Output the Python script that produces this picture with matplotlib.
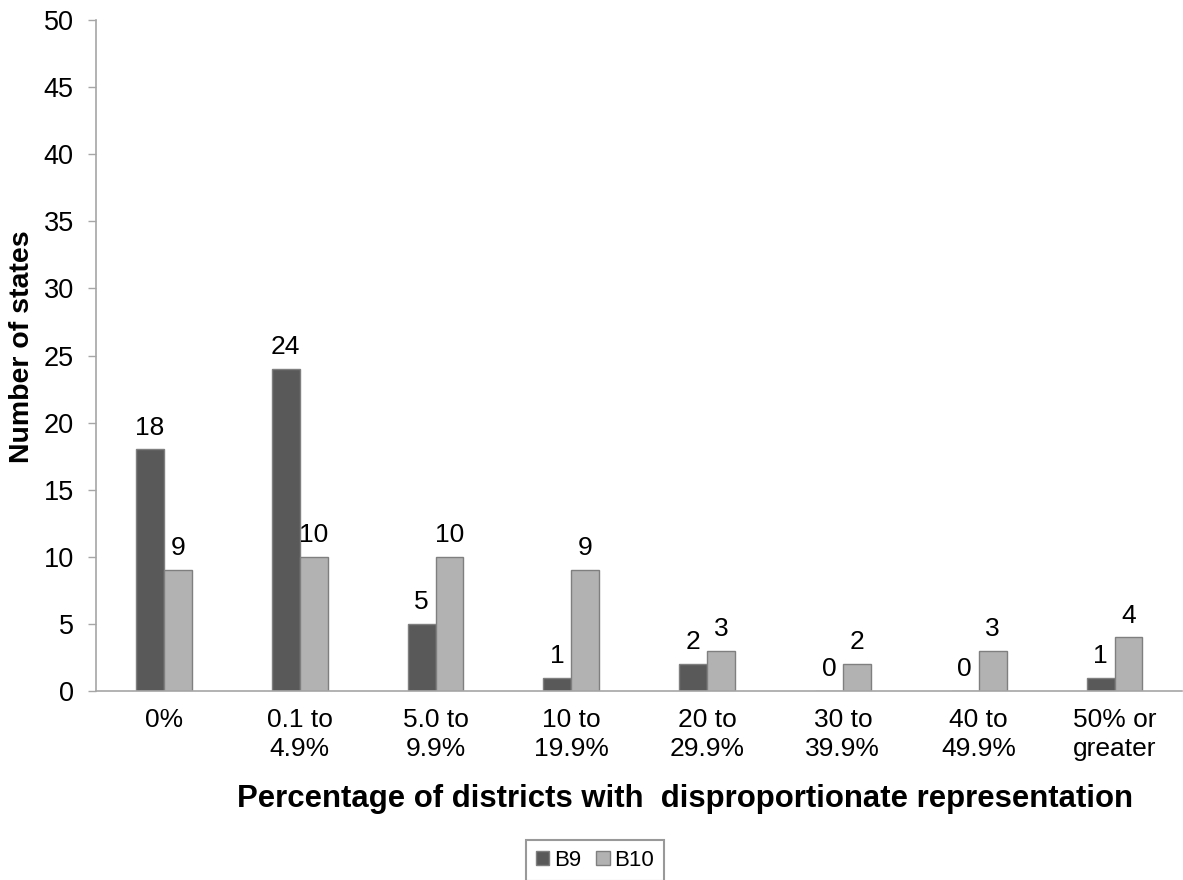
import matplotlib
matplotlib.use("Agg")
import matplotlib.pyplot as plt
import numpy as np

plt.rcParams['font.family'] = ['Liberation Sans', 'DejaVu Sans']

categories = ["0%", "0.1 to\n4.9%", "5.0 to\n9.9%", "10 to\n19.9%",
              "20 to\n29.9%", "30 to\n39.9%", "40 to\n49.9%", "50% or\ngreater"]
b9 = [18, 24, 5, 1, 2, 0, 0, 1]
b10 = [9, 10, 10, 9, 3, 2, 3, 4]
series_names = ["B9", "B10"]
yticks = list(range(0, 51, 5))

fig = plt.figure(figsize=(11.83, 8.8), dpi=100)
ax = fig.add_axes([96 / 1183, 1 - 691 / 880, 1 - 96 / 1183 - 0.0005, (691 - 20) / 880])

x = np.arange(len(categories))
w = 0.206
axis_grey = "#a6a6a6"
edge = "#7f7f7f"
bars9 = ax.bar(x - w / 2, b9, w, color="#595959", edgecolor=edge, linewidth=1.0,
               label=series_names[0])
bars10 = ax.bar(x + w / 2, b10, w, color="#b2b2b2", edgecolor=edge, linewidth=1.0,
                label=series_names[1])

for rects, vals in ((bars9, b9), (bars10, b10)):
    for r, v in zip(rects, vals):
        ax.annotate(str(v), (r.get_x() + r.get_width() / 2, v),
                    xytext=(0, 7), textcoords="offset points",
                    ha="center", va="bottom", fontsize=19, color="black")

ax.set_xlim(-0.5, len(categories) - 0.5)
ax.set_ylim(0, 50)
ax.set_yticks(yticks)
ax.set_xticks(x)
ax.set_xticklabels(categories, fontsize=19, linespacing=1.3)
ax.tick_params(axis="y", labelsize=19.5, length=6, width=1, color=axis_grey, pad=10)
ax.tick_params(axis="x", length=0, pad=12)

for side in ("top", "right"):
    ax.spines[side].set_visible(False)
ax.spines["left"].set_color(axis_grey)
ax.spines["bottom"].set_color(axis_grey)
ax.spines["left"].set_linewidth(1.2)
ax.spines["bottom"].set_linewidth(1.2)

ax.set_ylabel("Number of states", fontsize=20.5, fontweight="bold")
ax.yaxis.set_label_coords(-0.0561, 0.513)
ax.set_xlabel("Percentage of districts with  disproportionate representation",
              fontsize=22.4, fontweight="bold")
ax.xaxis.set_label_coords(0.542, -0.139)

leg = fig.legend(handles=[bars9, bars10], labels=series_names, loc="upper center",
                 bbox_to_anchor=(595 / 1183, 1 - 840 / 880), ncol=2, fontsize=16,
                 frameon=True, fancybox=False, handlelength=0.6, handleheight=0.6,
                 handletextpad=0.2, columnspacing=0.7, borderpad=0.45,
                 borderaxespad=0)
leg.get_frame().set_edgecolor("#808080")
leg.get_frame().set_linewidth(1.5)

fig.savefig("out.png", dpi=100)
